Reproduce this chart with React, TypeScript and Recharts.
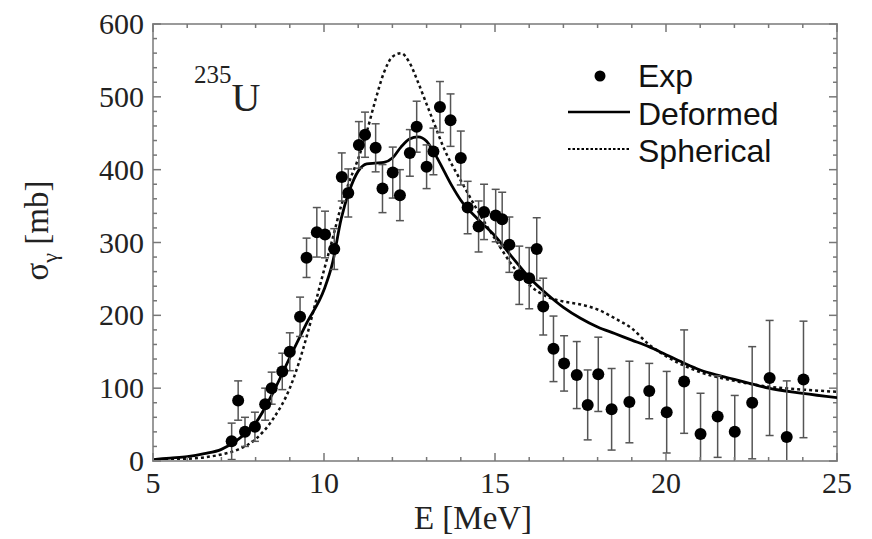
import React from "react";
import {
  ComposedChart,
  Line,
  Scatter,
  ErrorBar,
  XAxis,
  YAxis,
  ReferenceArea,
  Legend,
  Label,
} from "recharts";

// measured points (E in MeV, sigma and error in mb)
const expE = [
  7.3, 7.49, 7.69, 7.98, 8.28, 8.47, 8.78, 9.0, 9.3, 9.49, 9.79, 10.03, 10.3,
  10.52, 10.71, 11.02, 11.2, 11.51, 11.71, 12.01, 12.22, 12.51, 12.71, 13.0,
  13.2, 13.39, 13.7, 14.0, 14.2, 14.52, 14.68, 15.02, 15.21, 15.42, 15.71, 16.0,
  16.22, 16.41, 16.71, 17.02, 17.39, 17.71, 18.02, 18.41, 18.93, 19.51, 20.02,
  20.53, 21.01, 21.51, 22.01, 22.52, 23.03, 23.53, 24.02,
];
const expSigma = [
  27, 83, 40, 47, 78, 100, 123, 150, 198, 279, 314, 311, 291, 390, 368, 434,
  448, 430, 374, 396, 365, 423, 459, 404, 425, 486, 468, 416, 348, 322, 342, 337,
  332, 297, 255, 251, 291, 212, 154, 134, 118, 77, 119, 71, 81, 96, 67, 109, 37,
  61, 40, 80, 114, 33, 112,
];
const expErr = [
  25, 27, 20, 20, 22, 22, 25, 26, 27, 27, 34, 32, 28, 33, 33, 32, 31, 33, 33, 35,
  35, 32, 35, 30, 32, 35, 36, 37, 36, 35, 38, 36, 37, 38, 40, 42, 43, 39, 45, 38,
  46, 48, 51, 56, 56, 38, 56, 71, 56, 56, 50, 77, 79, 77, 80,
];

// model curves
const deformedE = [
  5, 5.5, 6, 6.5, 7, 7.5, 8, 8.5, 9, 9.5, 10, 10.25, 10.5, 10.75, 11, 11.25,
  11.5, 11.75, 12, 12.25, 12.5, 12.75, 13, 13.25, 13.5, 13.75, 14, 14.5, 15,
  15.5, 16, 16.5, 17, 17.5, 18, 18.5, 19, 19.5, 20, 20.5, 21, 21.5, 22, 22.5, 23,
  24, 25,
];
const deformedSigma = [
  2, 4, 6, 10, 16, 30, 52, 93, 142, 190, 235, 272, 332, 372, 398, 408, 409, 410,
  416, 431, 442, 445, 439, 421, 399, 377, 358, 332, 309, 280, 252, 230, 211, 196,
  184, 175, 166, 157, 146, 135, 125, 118, 112, 106, 100, 93, 87,
];
const sphericalE = [
  5, 5.5, 6, 6.5, 7, 7.5, 8, 8.5, 9, 9.5, 9.75, 10, 10.25, 10.5, 10.75, 11,
  11.25, 11.5, 11.75, 12, 12.25, 12.5, 12.75, 13, 13.25, 13.5, 13.75, 14, 14.5,
  15, 15.5, 16, 16.5, 17, 17.5, 18, 18.5, 19, 19.5, 20, 21, 22, 23, 24, 25,
];
const sphericalSigma = [
  1, 2, 3, 5, 9, 16, 30, 57, 100, 172, 217, 262, 305, 350, 385, 415, 452, 495,
  533, 555, 560, 547, 520, 490, 460, 430, 406, 385, 343, 305, 269, 242, 226, 219,
  215, 208, 196, 182, 160, 144, 122, 110, 102, 98, 95,
];

const xTicks = [5, 6, 7, 8, 9, 10, 11, 12, 13, 14, 15, 16, 17, 18, 19, 20, 21, 22, 23, 24, 25];
const xLabels = [5, 10, 15, 20, 25];
const yTicks = [
  0, 20, 40, 60, 80, 100, 120, 140, 160, 180, 200, 220, 240, 260, 280, 300, 320,
  340, 360, 380, 400, 420, 440, 460, 480, 500, 520, 540, 560, 580, 600,
];
const yLabels = [0, 100, 200, 300, 400, 500, 600];

const expData = expE.map((E, i) => ({
  E,
  sigma: expSigma[i],
  err: [Math.min(expErr[i], expSigma[i]), expErr[i]],
}));
const deformedData = deformedE.map((E, i) => ({ E, sigma: deformedSigma[i] }));
const sphericalData = sphericalE.map((E, i) => ({ E, sigma: sphericalSigma[i] }));

const W = 872;
const H = 539;
const MARGIN = { top: 24, right: 35, bottom: 28, left: 73 };
const PLOT_TOP = MARGIN.top;
const PLOT_RIGHT = W - MARGIN.right;
const FRAME = "#9a9a9a";
const TICK = "#777";
const SERIF = "'Liberation Serif', 'DejaVu Serif', serif";
const SANS = "'Liberation Sans', Arial, sans-serif";

const XTick = (props: any) => {
  const { x, y, payload } = props;
  const major = xLabels.includes(payload.value);
  const len = major ? 8 : 4;
  return (
    <g>
      <line x1={x} x2={x} y1={y} y2={y - len} stroke={TICK} strokeWidth={1.5} />
      <line x1={x} x2={x} y1={PLOT_TOP} y2={PLOT_TOP + len} stroke={TICK} strokeWidth={1.5} />
      {major && (
        <text x={x} y={y + 32} textAnchor="middle" fontFamily={SERIF} fontSize={30} fill="#222">
          {payload.value}
        </text>
      )}
    </g>
  );
};

const YTick = (props: any) => {
  const { x, y, payload } = props;
  const major = yLabels.includes(payload.value);
  const len = major ? 8 : 4;
  return (
    <g>
      <line x1={x} x2={x + len} y1={y} y2={y} stroke={TICK} strokeWidth={1.5} />
      <line x1={PLOT_RIGHT} x2={PLOT_RIGHT - len} y1={y} y2={y} stroke={TICK} strokeWidth={1.5} />
      {major && (
        <text x={x - 9} y={y + 10} textAnchor="end" fontFamily={SERIF} fontSize={30} fill="#222">
          {payload.value}
        </text>
      )}
    </g>
  );
};

const Dot = (props: any) => <circle cx={props.cx} cy={props.cy} r={6} fill="#000" />;

const LegendBox = () => (
  <svg width={280} height={130}>
    <circle cx={40} cy={26} r={5.5} fill="#000" />
    <text x={78} y={37} fontFamily={SANS} fontSize={32} fill="#111">Exp</text>
    <line x1={8} x2={70} y1={62} y2={62} stroke="#000" strokeWidth={2.5} />
    <text x={78} y={75} fontFamily={SANS} fontSize={32} fill="#111">Deformed</text>
    <line x1={8} x2={70} y1={99} y2={99} stroke="#000" strokeWidth={2} strokeDasharray="2.5 2" />
    <text x={78} y={112} fontFamily={SANS} fontSize={32} fill="#111">Spherical</text>
  </svg>
);

const XTitle = (props: any) => {
  const { viewBox } = props;
  return (
    <text
      x={viewBox.x + viewBox.width / 2 - 22}
      y={viewBox.y + 68}
      textAnchor="middle"
      fontFamily={SERIF}
      fontSize={33}
      fill="#222"
    >
      E [MeV]
    </text>
  );
};

const YTitle = (props: any) => {
  const { viewBox } = props;
  const cx = 48;
  const cy = viewBox.y + viewBox.height / 2 - 12;
  return (
    <text
      transform={`translate(${cx},${cy}) rotate(-90)`}
      textAnchor="middle"
      fontFamily={SERIF}
      fontSize={33}
      fill="#222"
    >
      σ
      <tspan fontSize={22} dy={9}>γ</tspan>
      <tspan dy={-9}> [mb]</tspan>
    </text>
  );
};

export default function App() {
  return (
    <div style={{ position: "absolute", left: 0, top: 0, width: W, height: H, background: "#fff" }}>
      <ComposedChart width={W} height={H} margin={MARGIN}>
        <ReferenceArea x1={5} x2={25} y1={0} y2={600} fill="none" stroke={FRAME} strokeWidth={2} />
        <XAxis
          type="number"
          dataKey="E"
          domain={[5, 25]}
          ticks={xTicks}
          interval={0}
          allowDataOverflow
          height={50}
          tickSize={0}
          tickMargin={0}
          tickLine={false}
          axisLine={{ stroke: FRAME, strokeWidth: 2 }}
          tick={<XTick />}
        >
          <Label content={<XTitle />} />
        </XAxis>
        <YAxis
          type="number"
          dataKey="sigma"
          domain={[0, 600]}
          ticks={yTicks}
          interval={0}
          allowDataOverflow
          width={80}
          tickSize={0}
          tickMargin={0}
          tickLine={false}
          axisLine={{ stroke: FRAME, strokeWidth: 2 }}
          tick={<YTick />}
        >
          <Label content={<YTitle />} />
        </YAxis>
        <Line
          data={sphericalData}
          dataKey="sigma"
          type="monotone"
          stroke="#111"
          strokeWidth={2.5}
          strokeDasharray="3 3"
          dot={false}
          isAnimationActive={false}
          name="Spherical"
        />
        <Line
          data={deformedData}
          dataKey="sigma"
          type="monotone"
          stroke="#000"
          strokeWidth={2.8}
          dot={false}
          isAnimationActive={false}
          name="Deformed"
        />
        <Scatter data={expData} dataKey="sigma" shape={<Dot />} isAnimationActive={false} name="Exp">
          <ErrorBar dataKey="err" direction="y" width={4} stroke="#555" strokeWidth={1.5} />
        </Scatter>
        <Legend
          layout="vertical"
          align="center"
          verticalAlign="middle"
          content={<LegendBox />}
          wrapperStyle={{ position: "absolute", left: 560, top: 50, width: 280, height: 130 }}
        />
      </ComposedChart>
      <div
        style={{
          position: "absolute",
          left: 194,
          top: 62,
          fontFamily: SERIF,
          color: "#222",
          lineHeight: 1,
          whiteSpace: "nowrap",
        }}
      >
        <span style={{ fontSize: 25, verticalAlign: "top" }}>235</span>
        <span style={{ fontSize: 40, position: "relative", top: 16 }}>U</span>
      </div>
    </div>
  );
}
